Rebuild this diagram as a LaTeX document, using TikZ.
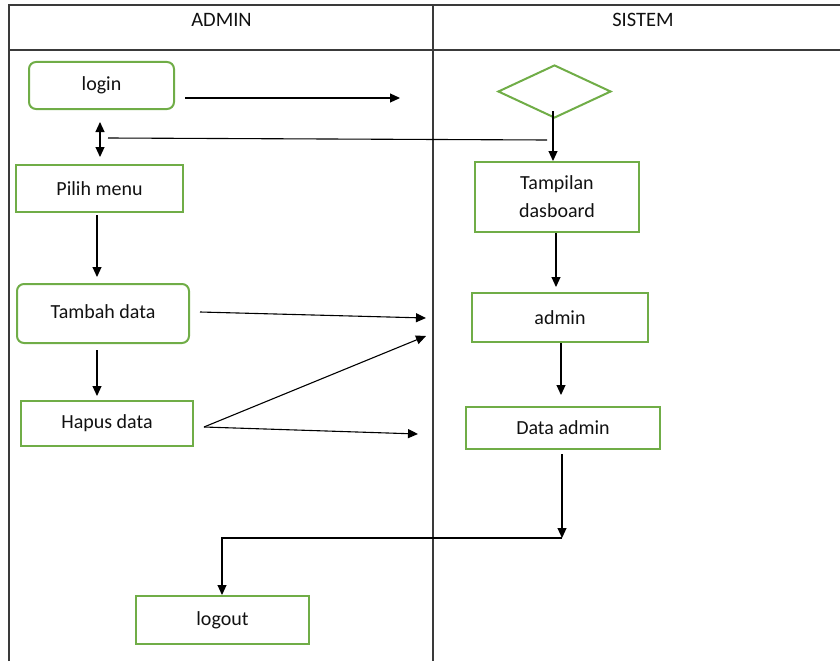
\documentclass[tikz,border=0pt]{standalone}
\usepackage{fontspec}
\setmainfont{Carlito}
\usetikzlibrary{shapes.geometric,arrows.meta}
\definecolor{boxgreen}{HTML}{70AD47}
\definecolor{tline}{HTML}{3A3A3A}
\definecolor{txt}{HTML}{111111}
\tikzset{
  gbox/.style={draw=boxgreen,line width=2pt,rectangle,inner sep=0pt,text=txt,font=\fontsize{20}{24}\selectfont,align=center},
  rbox/.style={gbox,rounded corners=7pt},
  dbox/.style={draw=boxgreen,line width=2pt,diamond,inner sep=0pt},
  arr/.style={draw=black,line width=1.1pt,-{Triangle[length=10pt,width=9pt]}},
  darr/.style={draw=black,line width=1.1pt,{Triangle[length=10pt,width=9pt]}-{Triangle[length=10pt,width=9pt]}},
  plain/.style={draw=black,line width=1.1pt},
  tab/.style={draw=tline,line width=1.4pt},
  head/.style={text=txt,font=\fontsize{20.5}{24}\selectfont}
}
\begin{document}
\begin{tikzpicture}[x=1pt,y=-1pt]
\useasboundingbox (0,0) rectangle (840,661);
% table
\draw[tab] (9,661) -- (9,5) -- (840,5);
\draw[tab] (9,50) -- (840,50);
\draw[tab] (433,5) -- (433,661);
\node[head] (hadmin) at (221.5,19.5) {ADMIN};
\node[head] (hsistem) at (643,19.5) {SISTEM};
% nodes
\node[rbox,minimum width=145pt,minimum height=47pt] (login) at (101.5,85.5) {\raisebox{-1.5pt}{login}};
\node[gbox,minimum width=167pt,minimum height=47pt] (pilih) at (99.5,188.5) {Pilih menu};
\node[rbox,minimum width=172pt,minimum height=59pt] (tambah) at (103,313.5) {\raisebox{4.5pt}{Tambah data}};
\node[gbox,minimum width=172pt,minimum height=45pt] (hapus) at (107,423.5) {Hapus data};
\node[gbox,minimum width=173pt,minimum height=48pt] (logout) at (222.5,620) {logout};
\node[dbox,minimum width=113pt,minimum height=53pt,aspect=2.13] (dec) at (554.5,91.5) {};
\node[gbox,minimum width=164pt,minimum height=70pt] (tamp) at (557,197) {Tampilan\\[4pt]dasboard};
\node[gbox,minimum width=176pt,minimum height=49pt] (admin) at (560,317.5) {admin};
\node[gbox,minimum width=194pt,minimum height=42pt] (data) at (563,428) {Data admin};
% free ends
\coordinate (e1) at (400,98);
\coordinate (r1) at (547,140);
\coordinate (r2) at (108,138);
\coordinate (e2) at (426,318);
\coordinate (e3) at (426,336);
\coordinate (e4) at (418,434);
\coordinate (k1) at (562,538);
\coordinate (k2) at (222,538);
% connectors
\draw[arr] ([shift={(10,12.5)}]login.east) -- (e1);
\draw[darr] ([shift={(-1.5,12)}]login.south) -- ([shift={(0.5,-7)}]pilih.north);
\draw[plain] (r1) -- (r2);
\draw[arr] ([shift={(-1.5,-8)}]dec.south) -- ([shift={(-4,0)}]tamp.north);
\draw[arr] ([shift={(-2.5,2)}]pilih.south) -- ([shift={(-6,-6)}]tambah.north);
\draw[arr] ([shift={(-6,6)}]tambah.south) -- ([shift={(-10,-4)}]hapus.north);
\draw[arr] ([shift={(10,-1.5)}]tambah.east) -- (e2);
\draw[arr] ([shift={(10,3.5)}]hapus.east) -- (e3);
\draw[arr] ([shift={(10,3.5)}]hapus.east) -- (e4);
\draw[arr] ([shift={(-1,0)}]tamp.south) -- ([shift={(-4,-5)}]admin.north);
\draw[arr] ([shift={(1,0)}]admin.south) -- ([shift={(-2,-11)}]data.north);
\draw[arr] ([shift={(-1,4)}]data.south) -- (k1);
\draw[arr] (k1) -- (k2) -- ([shift={(-0.5,0)}]logout.north);
\end{tikzpicture}
\end{document}
